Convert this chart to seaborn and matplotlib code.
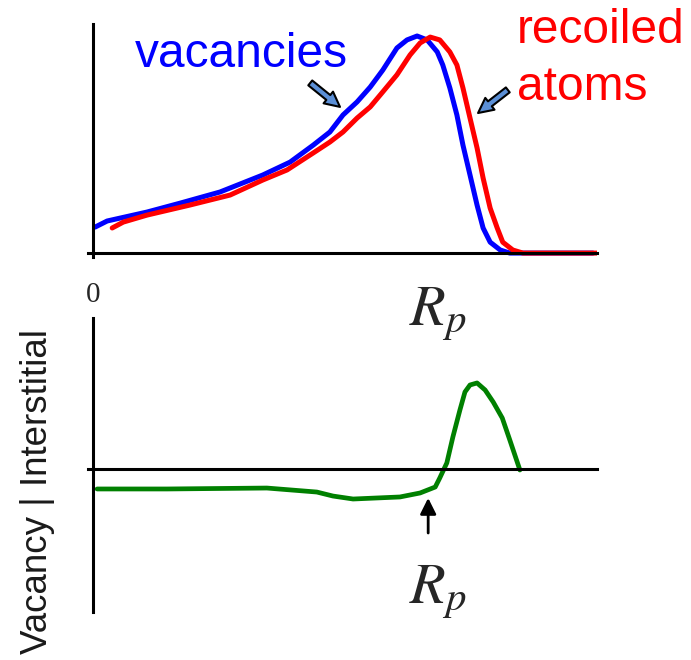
import numpy as np
import pandas as pd
import matplotlib.pyplot as plt
import seaborn as sns

# depth in arbitrary units (0 = surface, Rp = projected range)
rp = 66.4

depth_vac = [0.4, 2.8, 10.7, 17.3, 25.2, 33.7, 39.1, 43.7, 47.0, 49.6, 52.4, 55.0, 57.5,
             60.3, 62.3, 64.3, 66.3, 68.3, 69.4, 70.8, 72.2, 73.4, 74.8, 76.2, 77.4,
             78.8, 80.8, 82.7, 99.2]
vacancies = [0.119, 0.147, 0.188, 0.229, 0.280, 0.358, 0.417, 0.495, 0.555, 0.633, 0.693, 0.761, 0.839,
             0.940, 0.977, 0.995, 0.977, 0.922, 0.862, 0.757, 0.633, 0.495, 0.358, 0.220, 0.115,
             0.050, 0.014, 0.0, 0.0]

depth_rec = [3.8, 6.0, 10.7, 19.2, 27.2, 33.7, 38.5, 43.7, 47.0, 49.6, 52.4, 55.0, 57.5,
             60.3, 62.9, 64.9, 66.9, 68.8, 70.8, 72.2, 73.4, 74.8, 76.2, 77.4, 78.8,
             80.2, 81.3, 83.3, 85.3, 100.0]
recoiled = [0.115, 0.142, 0.174, 0.220, 0.266, 0.335, 0.381, 0.459, 0.509, 0.555, 0.619, 0.670, 0.739,
            0.817, 0.908, 0.963, 0.990, 0.977, 0.922, 0.862, 0.757, 0.619, 0.482, 0.344, 0.206,
            0.115, 0.050, 0.014, 0.0, 0.0]

depth_net = [0.8, 14.7, 34.5, 44.4, 47.6, 51.6, 60.9, 64.9, 67.9, 68.8, 70.2, 71.4,
             72.8, 73.8, 74.8, 76.2, 77.8, 79.4, 81.2, 82.7, 84.7]
net_defects = [-0.235, -0.235, -0.224, -0.271, -0.318, -0.353, -0.329, -0.282, -0.212, -0.106,
               0.071, 0.376, 0.694, 0.906, 0.988, 1.012, 0.929, 0.788, 0.600, 0.341, -0.012]

sns.set_theme(style="white")
plt.rcParams["font.family"] = ["Liberation Sans", "DejaVu Sans"]
plt.rcParams["mathtext.fontset"] = "stix"

fig = plt.figure(figsize=(6.91, 6.60), dpi=100)
ax1 = fig.add_axes([88 / 691, 1 - 257 / 660, 509 / 691, (257 - 24) / 660])
ax2 = fig.add_axes([88 / 691, 1 - 612 / 660, 509 / 691, (612 - 318) / 660])
ax2.patch.set_alpha(0)

# -------------------------------
# top: vacancies / recoiled atoms
# -------------------------------
sns.lineplot(x=depth_vac, y=vacancies, ax=ax1, color="#0000ff", linewidth=3.6,
             solid_capstyle="round")
sns.lineplot(x=depth_rec, y=recoiled, ax=ax1, color="#ff0000", linewidth=3.6,
             solid_capstyle="round")

ax1.set_xlim(-1, 100)
ax1.set_ylim(-0.018, 1.05)

ax1.text(8.2, 0.853, "vacancies", color="#0000ff", fontsize=34.5, va="baseline")
ax1.text(84.1, 0.963, "recoiled", color="#ff0000", fontsize=34.5, va="baseline")
ax1.text(84.1, 0.701, "atoms", color="#ff0000", fontsize=34.5, va="baseline")

arrow_style = dict(arrowstyle="simple,head_length=0.6,head_width=0.6,tail_width=0.25",
                   fc="#5b8fd6", ec="black", lw=1.5, mutation_scale=18,
                   shrinkA=0, shrinkB=0)
ax1.annotate("", xy=(49.0, 0.670), xytext=(43.1, 0.780), arrowprops=arrow_style)
ax1.annotate("", xy=(76.4, 0.642), xytext=(82.3, 0.748), arrowprops=arrow_style)

ax1.text(68.4, -0.330, "$R_p$", fontsize=42, ha="center", va="baseline")

# -------------------------------
# bottom: net defect profile
# -------------------------------
sns.lineplot(x=depth_net, y=net_defects, ax=ax2, color="#008000", linewidth=3.4,
             solid_capstyle="round")

ax2.set_xlim(-1, 100)
ax2.set_ylim(-1.682, 1.776)

ax2.annotate("", xy=(66.5, -0.341), xytext=(66.5, -0.753),
             arrowprops=dict(arrowstyle="-|>", color="black", lw=2,
                             mutation_scale=24, shrinkA=0, shrinkB=0))
ax2.text(68.4, -1.576, "$R_p$", fontsize=42, ha="center", va="baseline")

ax2.set_ylabel("Vacancy | Interstitial", fontsize=26.5, color="#1a1a1a")
ax2.yaxis.set_label_coords(-0.065, 0.41)

for ax in (ax1, ax2):
    for side in ("top", "right"):
        ax.spines[side].set_visible(False)
    ax.spines["left"].set_position(("data", 0))
    ax.spines["bottom"].set_position(("data", 0))
    for side in ("left", "bottom"):
        ax.spines[side].set_linewidth(2.2)
        ax.spines[side].set_color("black")
    ax.set_yticks([])
    ax.set_xlabel("")

ax1.set_xticks([0, rp], labels=["0", ""])
ax1.tick_params(axis="x", direction="inout", length=11, width=2, color="black",
                pad=15, labelsize=21)
for lab in ax1.get_xticklabels():
    lab.set_fontfamily("Liberation Serif")
ax2.set_xticks([])

fig.savefig("out.png", dpi=100)
